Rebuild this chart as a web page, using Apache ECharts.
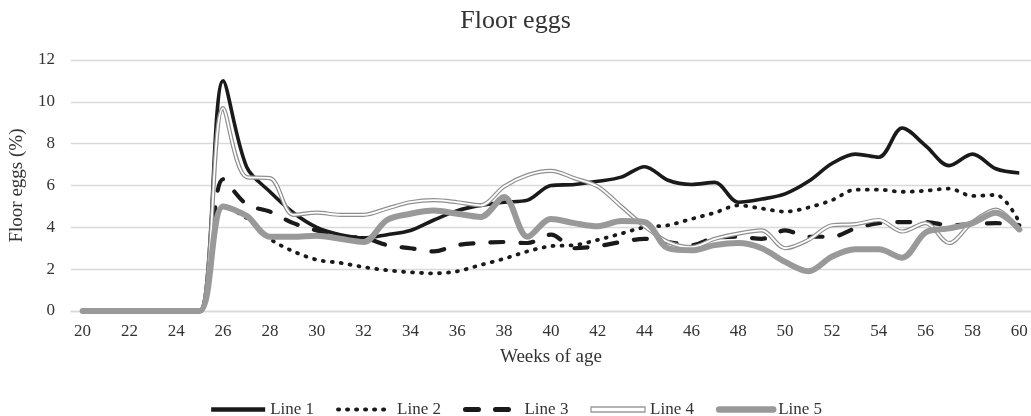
<!DOCTYPE html>
<html>
<head>
<meta charset="utf-8">
<script src="https://cdn.jsdelivr.net/npm/echarts@6/dist/echarts.min.js"></script>
<style>html,body{margin:0;padding:0;background:#fff}#c{width:1031px;height:416px}</style>
</head>
<body>
<div id="c"></div>
<script>
const weeks = ['20','21','22','23','24','25','26','27','28','29','30','31','32','33','34','35','36','37','38','39','40','41','42','43','44','45','46','47','48','49','50','51','52','53','54','55','56','57','58','59','60'];
const line1 = [0,0,0,0,0,0,11.0,6.9,5.7,4.7,4.0,3.65,3.5,3.65,3.85,4.35,4.8,5.05,5.2,5.3,6.0,6.05,6.2,6.4,6.9,6.25,6.05,6.15,5.2,5.35,5.6,6.2,7.05,7.5,7.35,8.75,7.9,6.95,7.5,6.8,6.6];
const line2 = [0,0,0,0,0,0,5.0,4.45,3.45,2.85,2.45,2.3,2.1,1.95,1.85,1.8,1.9,2.2,2.5,2.85,3.1,3.15,3.4,3.7,4.0,4.1,4.4,4.7,5.05,4.9,4.75,4.95,5.3,5.8,5.8,5.7,5.75,5.85,5.5,5.55,4.25];
const line3 = [0,0,0,0,0,0,6.3,5.1,4.75,4.2,3.85,3.55,3.5,3.15,3.0,2.85,3.15,3.25,3.3,3.25,3.65,3.0,3.1,3.3,3.45,3.3,3.15,3.5,3.55,3.45,3.85,3.55,3.55,3.95,4.2,4.25,4.25,4.1,4.15,4.2,4.1];
const line4 = [0,0,0,0,0,0,9.7,6.4,6.35,4.6,4.7,4.6,4.6,4.9,5.2,5.3,5.2,5.05,5.95,6.5,6.7,6.35,5.95,5.0,4.05,3.3,3.05,3.45,3.7,3.85,3.0,3.4,4.1,4.15,4.35,3.8,4.2,3.25,4.25,4.85,3.85];
const line5 = [0,0,0,0,0,0,5.0,4.55,3.55,3.55,3.6,3.45,3.3,4.35,4.65,4.8,4.65,4.5,5.45,3.55,4.4,4.2,4.05,4.3,4.25,3.0,2.9,3.15,3.25,3.0,2.35,1.9,2.6,2.95,2.95,2.55,3.75,3.95,4.2,4.7,3.9];
const seriesNames = ['Line 1','Line 2','Line 3','Line 4','Line 5'];
const yTicks = {min: 0, max: 12, interval: 2};

const FONT = '"Liberation Serif", "Times New Roman", serif';
const TXT = '#333';
const SM = 0.33;

const chart = echarts.init(document.getElementById('c'), null, {renderer: 'canvas'});
function lineSeries(name, data, lineStyle) {
  return {name, type: 'line', data, smooth: SM, symbol: 'none', showSymbol: false,
          lineStyle, itemStyle: {color: lineStyle.color}, emphasis: {disabled: true}};
}
chart.setOption({
  animation: false,
  title: {text: 'Floor eggs', left: 'center', top: 8, padding: 0,
          textStyle: {fontFamily: FONT, fontSize: 26, fontWeight: 'normal', color: TXT}},
  grid: {left: 68, right: 0, top: 60, bottom: 105},
  legend: {
    top: 401, padding: 0, left: 'center', itemWidth: 54, itemHeight: 14, itemGap: 22,
    textStyle: {fontFamily: FONT, fontSize: 17, color: TXT},
    itemStyle: {opacity: 0},
    data: [
      {name: seriesNames[0], lineStyle: {width: 4.5}},
      {name: seriesNames[1], lineStyle: {width: 4}},
      {name: seriesNames[2], lineStyle: {width: 5}},
      {name: seriesNames[3], icon: 'path://M0 0H54V5H0Z',
       itemStyle: {color: '#fff', borderColor: '#9a9a9a', borderWidth: 1.3, opacity: 1}},
      {name: seriesNames[4], lineStyle: {width: 6.5}}
    ]
  },
  xAxis: {
    type: 'category', data: weeks, boundaryGap: true,
    name: 'Weeks of age', nameLocation: 'middle', nameGap: 37,
    nameTextStyle: {fontFamily: FONT, fontSize: 19, color: TXT},
    axisLine: {lineStyle: {color: '#d9d9d9', width: 1.3}},
    axisTick: {show: false},
    axisLabel: {interval: 1, margin: 12, fontFamily: FONT, fontSize: 17, color: TXT},
    splitLine: {show: false}
  },
  yAxis: {
    type: 'value', min: yTicks.min, max: yTicks.max, interval: yTicks.interval,
    name: 'Floor eggs (%)', nameLocation: 'middle', nameGap: 36,
    nameTextStyle: {fontFamily: FONT, fontSize: 19, color: TXT},
    axisLine: {show: false}, axisTick: {show: false},
    axisLabel: {margin: 16, fontFamily: FONT, fontSize: 17, color: TXT},
    splitLine: {lineStyle: {color: '#d9d9d9', width: 1.3}}
  },
  series: [
    lineSeries(seriesNames[0], line1, {color: '#1a1a1a', width: 3.6}),
    lineSeries(seriesNames[1], line2, {color: '#1a1a1a', width: 3.8, type: [1, 8], cap: 'round'}),
    lineSeries(seriesNames[2], line3, {color: '#1a1a1a', width: 4.2, type: [13, 17], cap: 'round'}),
    lineSeries(seriesNames[3], line4, {color: '#8f8f8f', width: 4.2}),
    Object.assign(lineSeries(seriesNames[3], line4, {color: '#ffffff', width: 1.8}), {legendHoverLink: false}),
    lineSeries(seriesNames[4], line5, {color: '#999999', width: 6, cap: 'round'})
  ]
});
</script>
</body>
</html>
